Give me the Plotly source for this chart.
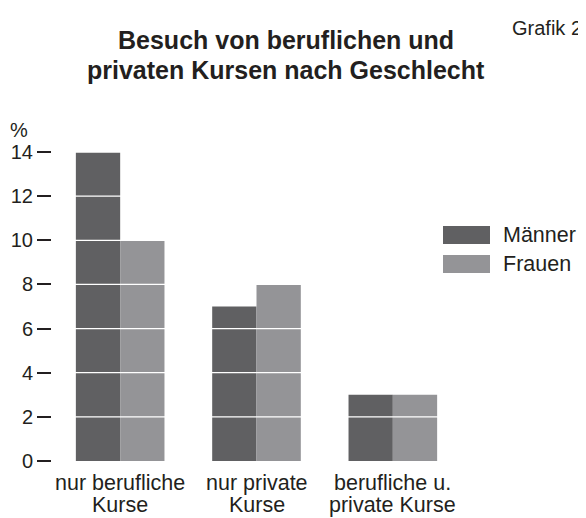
import plotly.graph_objects as go

categories = ["nur berufliche\nKurse", "nur private\nKurse", "berufliche u.\nprivate Kurse"]
maenner = [14, 7, 3]
frauen = [10, 8, 3]
y_ticks = [0, 2, 4, 6, 8, 10, 12, 14]
title_lines = ["Besuch von beruflichen und", "privaten Kursen nach Geschlecht"]

DARK = "#606062"
LIGHT = "#949497"
TXT = "#231f20"
FONT = "Liberation Sans, Arial, sans-serif"

# the page body has an 8px margin, so the figure is drawn 8px in from the corner
W, H = 578, 510

fig = go.Figure()
fig.add_trace(go.Bar(x=categories, y=maenner, name="Männer", marker=dict(color=DARK, line=dict(width=0))))
fig.add_trace(go.Bar(x=categories, y=frauen, name="Frauen", marker=dict(color=LIGHT, line=dict(width=0))))

fig.update_layout(
    width=W, height=H,
    margin=dict(l=44, r=125, t=144, b=57, autoexpand=False),
    paper_bgcolor="white", plot_bgcolor="white",
    barmode="group", bargap=0.35, bargroupgap=0,
    showlegend=False,
    font=dict(family=FONT, color=TXT, size=20),
)

fig.update_xaxes(showline=False, showgrid=False, zeroline=False, ticks="",
                 showticklabels=False, range=[-0.5, 2.5])
fig.update_yaxes(range=[0, 14], tickvals=y_ticks, ticks="outside", ticklen=14,
                 tickwidth=1.5, tickcolor=TXT, showline=False, zeroline=False,
                 showgrid=False, tickfont=dict(size=20, color=TXT))

# white grid lines drawn on top of the bars
for v in y_ticks[1:]:
    fig.add_shape(type="line", xref="paper", yref="y", x0=0, x1=1, y0=v, y1=v,
                  line=dict(color="white", width=1.3), layer="above")

def px_x(p):
    return (p - 52) / 409

def px_y(p):
    return (461 - p) / 309

# title, one annotation per line for tighter leading
for i, line in enumerate(title_lines):
    fig.add_annotation(text="<b>" + line + "</b>", xref="paper", yref="paper",
                       x=px_x(286), y=px_y(40 + 30 * i), xanchor="center", yanchor="middle",
                       showarrow=False, font=dict(size=25, color=TXT))

# category labels, two lines each with tight leading
for cat in categories:
    for i, line in enumerate(cat.split("\n")):
        fig.add_annotation(text=line, x=cat, xref="x", yref="paper",
                           y=px_y(483 + 22 * i), xanchor="center", yanchor="middle",
                           showarrow=False, font=dict(size=21.5, color=TXT))

# legend keys
for name, color, top, bottom in [("Männer", DARK, 226, 244), ("Frauen", LIGHT, 255, 273)]:
    fig.add_shape(type="rect", xref="paper", yref="paper",
                  x0=px_x(443), x1=px_x(490), y0=px_y(bottom), y1=px_y(top),
                  fillcolor=color, line=dict(width=0))
    fig.add_annotation(text=name, xref="paper", yref="paper",
                       x=px_x(501), y=px_y((top + bottom) / 2), xanchor="left",
                       yanchor="middle", showarrow=False, font=dict(size=21.5, color=TXT))

fig.add_annotation(text="%", xref="paper", yref="paper", x=px_x(19), y=px_y(130),
                   xanchor="center", yanchor="middle", showarrow=False,
                   font=dict(size=20, color=TXT))
fig.add_annotation(text="Grafik 2", xref="paper", yref="paper", x=px_x(584), y=px_y(28),
                   xanchor="right", yanchor="middle", showarrow=False,
                   font=dict(size=20, color=TXT))

fig.write_html("out.html")
